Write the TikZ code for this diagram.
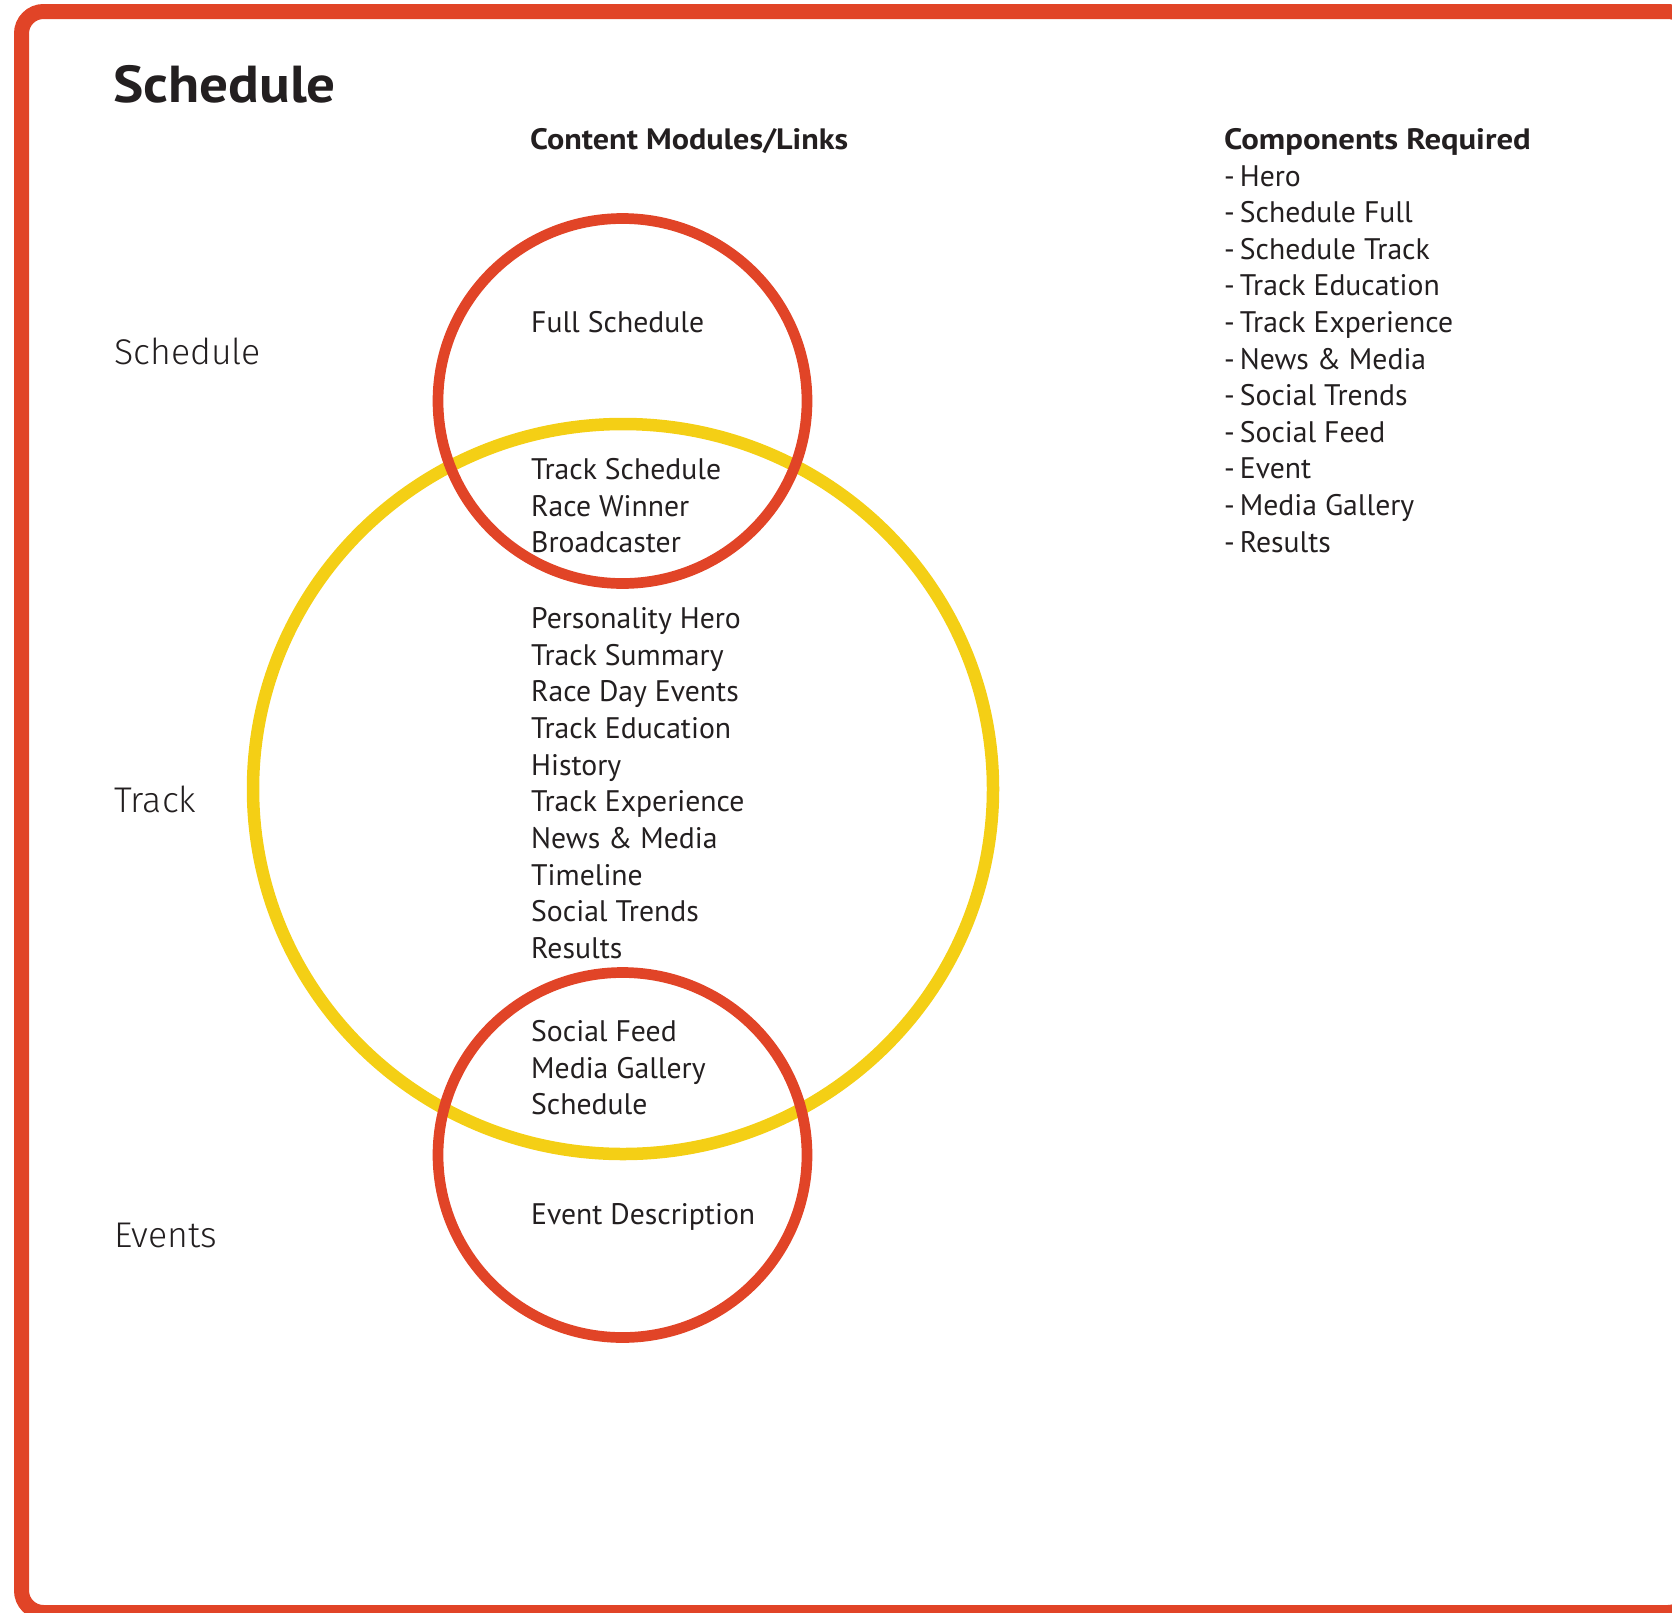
\documentclass[tikz,border=0pt]{standalone}
\usepackage{fontspec}
\setmainfont{PT Sans}
\newfontfamily\lightfont{Fira Sans Light}
\definecolor{fr}{HTML}{E14427}
\definecolor{fy}{HTML}{F4CF15}
\definecolor{ink}{HTML}{231F20}
\tikzset{
  body/.style={anchor=base west, inner sep=0pt, text=ink, font=\fontsize{29.7}{35}\selectfont},
  head/.style={anchor=base west, inner sep=0pt, text=ink, font=\bfseries\fontsize{29.5}{35}\selectfont},
  side/.style={anchor=base west, inner sep=0pt, text=ink, font=\lightfont\fontsize{35.7}{44}\selectfont},
  redring/.style={draw=fr, line width=10.7pt},
  yelring/.style={draw=fy, line width=12.5pt},
}
\begin{document}
\begin{tikzpicture}[x=1pt,y=-1pt]
\useasboundingbox (0,0) rectangle (1672,1612);
\begin{scope}
\clip (0,0) rectangle (1672,1612);
\draw[fr, line width=15pt, rounded corners=22pt] (21.5,11.5) rectangle (1690,1612.5);
\end{scope}
% circles
\draw[yelring] (623,789) ellipse [x radius=370, y radius=365];
\draw[redring] (622.5,401) ellipse [x radius=184.5, y radius=182.5];
\draw[redring] (622.5,1155) ellipse [x radius=184.5, y radius=182.5];
% title and headings
\node[anchor=base west, inner sep=0pt, text=ink, font=\bfseries\fontsize{52}{60}\selectfont] (title) at (113,102.7) {\scalebox{1.1}[1]{Schedule}};
\node[head] (cmh) at (530,149.3) {\scalebox{1.09}[1]{Content Modules/Links}};
\node[head] (crh) at (1224,149.3) {\scalebox{1.11}[1]{Components Required}};
% side labels
\node[side] (sSched) at (114,364.3) {Schedule};
\node[side] (sTrack) at (114,812.5) {Track};
\node[side] (sEvents) at (114,1247.5) {Events};
% content modules
\node[body] (m0) at (531,332.3) {Full Schedule};
\foreach \t [count=\i from 0] in {Track Schedule, Race Winner, Broadcaster}
  \node[body] (ma\i) at (531,479.5+36.7*\i) {\t};
\foreach \t [count=\i from 0] in {Personality Hero, Track Summary, Race Day Events, Track Education, History, Track Experience, News \& Media, Timeline, Social Trends, Results}
  \node[body] (mb\i) at (531,628.5+36.65*\i) {\t};
\foreach \t [count=\i from 0] in {Social Feed, Media Gallery, Schedule}
  \node[body] (mc\i) at (531,1041.5+36.7*\i) {\t};
\node[body] (md) at (531,1224) {Event Description};
% components
\foreach \t [count=\i from 0] in {Hero, Schedule Full, Schedule Track, Track Education, Track Experience, News \& Media, Social Trends, Social Feed, Event, Media Gallery, Results}
  \node[body] (c\i) at (1224,186+36.6*\i) {-\,\t};
\end{tikzpicture}
\end{document}
